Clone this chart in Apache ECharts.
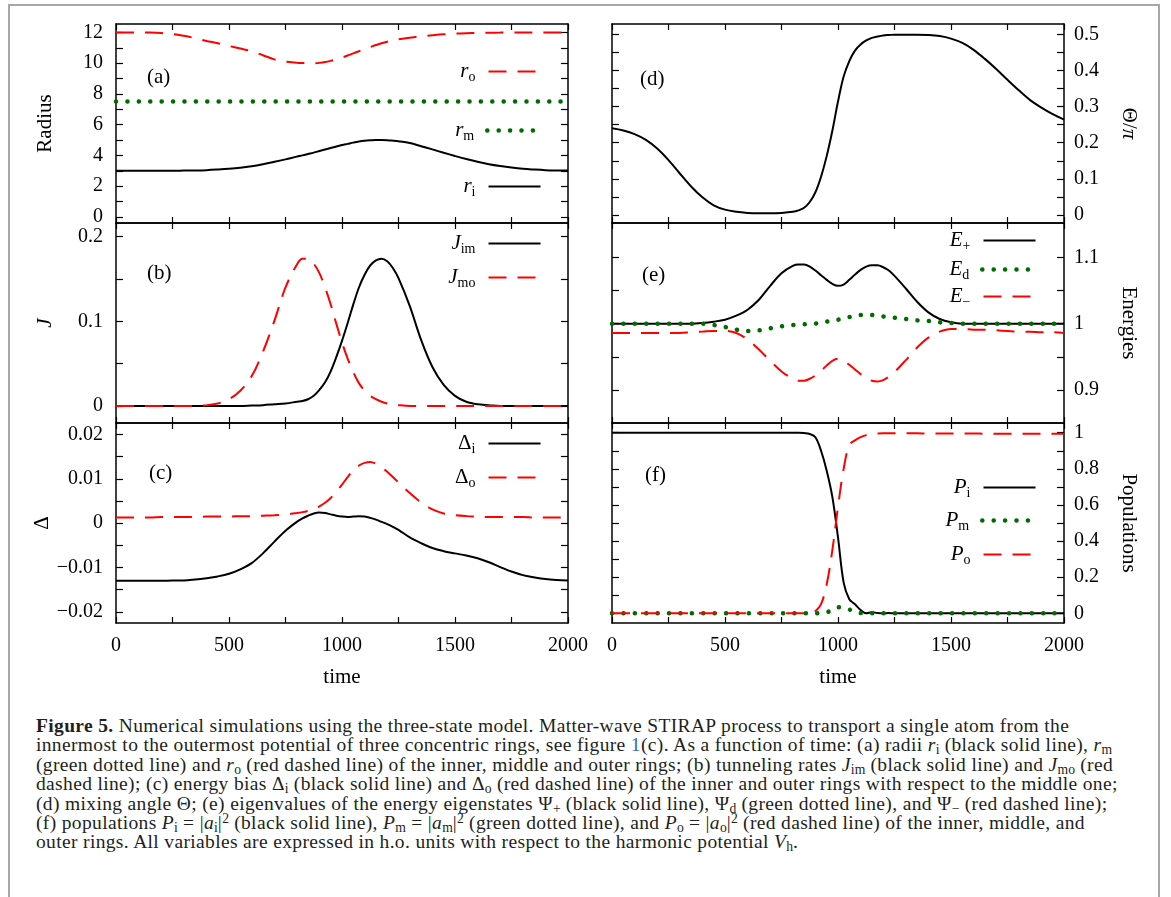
<!DOCTYPE html>
<html>
<head>
<meta charset="utf-8">
<script src="https://cdn.jsdelivr.net/npm/echarts@6/dist/echarts.min.js"></script>
<style>
  html, body { margin: 0; padding: 0; background: #fff; }
  #wrap { position: relative; width: 1171px; height: 897px; overflow: hidden; }
  #frame { position: absolute; left: 8px; top: 4px; width: 1148px; height: 920px; border: 2px solid #a8a8a8; border-bottom: none; }
  #chart { position: absolute; left: 0; top: 0; width: 1171px; height: 705px; }
  #caption { position: absolute; left: 36px; top: 716px; font-family: 'Liberation Serif', serif; font-size: 19.5px; letter-spacing: 0.35px; line-height: 19.4px; color: #231f20; white-space: nowrap; }
  #caption sub { font-size: 0.7em; vertical-align: -0.25em; line-height: 0; letter-spacing: 0; }
  #caption sup { font-size: 0.7em; vertical-align: 0.45em; line-height: 0; letter-spacing: 0; }
  #caption .lnk { color: #2e6db4; }
</style>
</head>
<body>
<div id="wrap">
  <div id="frame"></div>
  <div id="chart"></div>
  <div id="caption">
    <b>Figure 5.</b> Numerical simulations using the three-state model. Matter-wave STIRAP process to transport a single atom from the<br>
    innermost to the outermost potential of three concentric rings, see figure <span class="lnk">1</span>(c). As a function of time: (a) radii <i>r</i><sub>i</sub> (black solid line), <i>r</i><sub>m</sub><br>
    (green dotted line) and <i>r</i><sub>o</sub> (red dashed line) of the inner, middle and outer rings; (b) tunneling rates <i>J</i><sub>im</sub> (black solid line) and <i>J</i><sub>mo</sub> (red<br>
    dashed line); (c) energy bias Δ<sub>i</sub> (black solid line) and Δ<sub>o</sub> (red dashed line) of the inner and outer rings with respect to the middle one;<br>
    (d) mixing angle Θ; (e) eigenvalues of the energy eigenstates Ψ<sub>+</sub> (black solid line), Ψ<sub>d</sub> (green dotted line), and Ψ<sub>−</sub> (red dashed line);<br>
    (f) populations <i>P</i><sub>i</sub> = |<i>a</i><sub>i</sub>|<sup>2</sup> (black solid line), <i>P</i><sub>m</sub> = |<i>a</i><sub>m</sub>|<sup>2</sup> (green dotted line), and <i>P</i><sub>o</sub> = |<i>a</i><sub>o</sub>|<sup>2</sup> (red dashed line) of the inner, middle, and<br>
    outer rings. All variables are expressed in h.o. units with respect to the harmonic potential <i>V</i><sub>h</sub>.
  </div>
</div>
<script>
const time = [0, 50, 100, 150, 200, 250, 300, 350, 400, 450, 500, 550, 600, 650, 700, 750, 800,
  825, 850, 875, 900, 925, 950, 975, 1000, 1025, 1050, 1075, 1100, 1125, 1150, 1175, 1200, 1225, 1250,
  1300, 1350, 1400, 1450, 1500, 1550, 1600, 1650, 1700, 1750, 1800, 1850, 1900, 1950, 2000]

// (a) radii
const rOuter = [12, 12, 12, 11.99, 11.96, 11.9, 11.78, 11.63, 11.45, 11.3, 11.12, 10.95, 10.78, 10.52, 10.25, 10.1, 10.03,
  10.01, 10.0, 10.0, 10.02, 10.07, 10.15, 10.25, 10.37, 10.5, 10.64, 10.78, 10.92, 11.05, 11.18, 11.3, 11.4, 11.48, 11.55,
  11.66, 11.75, 11.82, 11.88, 11.92, 11.95, 11.97, 11.98, 11.99, 12, 12, 12, 12, 12, 12]
const rMiddle = [7.5, 7.5, 7.5, 7.5, 7.5, 7.5, 7.5, 7.5, 7.5, 7.5, 7.5, 7.5, 7.5, 7.5, 7.5, 7.5, 7.5,
  7.5, 7.5, 7.5, 7.5, 7.5, 7.5, 7.5, 7.5, 7.5, 7.5, 7.5, 7.5, 7.5, 7.5, 7.5, 7.5, 7.5, 7.5,
  7.5, 7.5, 7.5, 7.5, 7.5, 7.5, 7.5, 7.5, 7.5, 7.5, 7.5, 7.5, 7.5, 7.5, 7.5]
const rInner = [3, 3, 3, 3, 3, 3, 3.01, 3.02, 3.04, 3.08, 3.13, 3.2, 3.3, 3.43, 3.58, 3.74, 3.92,
  4.0, 4.09, 4.18, 4.28, 4.38, 4.48, 4.58, 4.67, 4.75, 4.83, 4.9, 4.95, 4.98, 5.0, 5.0, 4.99, 4.96, 4.92,
  4.8, 4.6, 4.39, 4.17, 3.96, 3.76, 3.58, 3.43, 3.31, 3.21, 3.13, 3.08, 3.04, 3.02, 3.01]

// (b) tunneling rates
const jIm = [0, 0, 0, 0, 0, 0, 0, 0, 0, 0, 0, 0, 0.0005, 0.001, 0.002, 0.003, 0.005,
  0.006, 0.008, 0.012, 0.019, 0.028, 0.041, 0.058, 0.077, 0.098, 0.12, 0.14, 0.155, 0.166, 0.172, 0.174, 0.171, 0.163, 0.151,
  0.118, 0.078, 0.046, 0.025, 0.012, 0.005, 0.002, 0.001, 0, 0, 0, 0, 0, 0, 0]
const jMo = [0, 0, 0, 0, 0, 0, 0, 0, 0.001, 0.003, 0.008, 0.018, 0.035, 0.064, 0.1, 0.14, 0.167,
  0.174, 0.174, 0.168, 0.157, 0.14, 0.12, 0.097, 0.075, 0.056, 0.04, 0.027, 0.018, 0.012, 0.008, 0.005, 0.003, 0.002, 0.001,
  0, 0, 0, 0, 0, 0, 0, 0, 0, 0, 0, 0, 0, 0, 0]

// (c) energy bias
const deltaIn = [-0.013, -0.013, -0.013, -0.013, -0.013, -0.0129, -0.0129, -0.0127, -0.0124, -0.012, -0.0114, -0.0104, -0.009, -0.0068, -0.0042, -0.0017, 0.0003,
  0.0011, 0.0017, 0.0022, 0.0024, 0.0023, 0.002, 0.0017, 0.0015, 0.0014, 0.0015, 0.0016, 0.0015, 0.0012, 0.0008, 0.0003, -0.0002, -0.0008, -0.0015,
  -0.0032, -0.0045, -0.0056, -0.0063, -0.0068, -0.0073, -0.0079, -0.0088, -0.0099, -0.0109, -0.0117, -0.0122, -0.0126, -0.0128, -0.0129]
const deltaOut = [0.0013, 0.0013, 0.0013, 0.0013, 0.0014, 0.0014, 0.0014, 0.0014, 0.0015, 0.0015, 0.0015, 0.0016, 0.0016, 0.0017, 0.0018, 0.002, 0.0023,
  0.0025, 0.0028, 0.0032, 0.0038, 0.0046, 0.0057, 0.0071, 0.0087, 0.0104, 0.0119, 0.013, 0.0136, 0.0138, 0.0134, 0.0126, 0.0116, 0.0104, 0.0092,
  0.0068, 0.0047, 0.0031, 0.0022, 0.0018, 0.0016, 0.0015, 0.0014, 0.0014, 0.0014, 0.0014, 0.0013, 0.0013, 0.0013, 0.0013]

// (d) mixing angle / pi
const theta = [0.24, 0.234, 0.224, 0.208, 0.184, 0.152, 0.115, 0.079, 0.049, 0.027, 0.015, 0.009, 0.006, 0.005, 0.005, 0.006, 0.009,
  0.013, 0.02, 0.036, 0.063, 0.106, 0.163, 0.233, 0.314, 0.383, 0.426, 0.455, 0.472, 0.483, 0.49, 0.494, 0.497, 0.498, 0.499,
  0.499, 0.499, 0.498, 0.495, 0.488, 0.476, 0.457, 0.432, 0.404, 0.374, 0.345, 0.318, 0.297, 0.279, 0.264]

// (e) energies
const ePlus = [1, 1, 1, 1, 1, 1, 1, 1, 1.001, 1.003, 1.006, 1.012, 1.021, 1.036, 1.057, 1.076, 1.087,
  1.089, 1.089, 1.086, 1.08, 1.073, 1.066, 1.06, 1.057, 1.059, 1.066, 1.074, 1.081, 1.086, 1.088, 1.088, 1.085, 1.08, 1.072,
  1.053, 1.033, 1.017, 1.007, 1.002, 1, 1, 1, 1, 1, 1, 1, 1, 1, 1]
const eDark = [1, 1, 1, 1, 1, 1, 1, 1, 1, 0.998, 0.995, 0.991, 0.989, 0.99, 0.993, 0.996, 0.998,
  0.998, 0.999, 0.999, 1, 1.001, 1.003, 1.005, 1.006, 1.008, 1.01, 1.012, 1.013, 1.013, 1.013, 1.012, 1.011, 1.01, 1.009,
  1.007, 1.005, 1.004, 1.002, 1.001, 1, 1, 1, 1, 1, 1, 1, 1, 1, 1]
const eMinus = [0.986, 0.986, 0.986, 0.986, 0.986, 0.986, 0.986, 0.987, 0.988, 0.989, 0.989, 0.986, 0.976, 0.961, 0.944, 0.928, 0.917,
  0.914, 0.914, 0.917, 0.922, 0.929, 0.937, 0.944, 0.947, 0.944, 0.938, 0.931, 0.924, 0.918, 0.914, 0.913, 0.915, 0.92, 0.927,
  0.945, 0.964, 0.979, 0.988, 0.992, 0.992, 0.991, 0.991, 0.99, 0.989, 0.988, 0.988, 0.987, 0.987, 0.986]

// (f) populations
const pIn = [1, 1, 1, 1, 1, 1, 1, 1, 1, 1, 1, 1, 1, 1, 1, 1, 1,
  1, 0.998, 0.993, 0.975, 0.9, 0.79, 0.645, 0.42, 0.17, 0.078, 0.05, 0.018, 0, 0.006, 0.001, 0, 0.001, 0,
  0, 0, 0, 0, 0, 0, 0, 0, 0, 0, 0, 0, 0, 0, 0]
const pMid = [0, 0, 0, 0, 0, 0, 0, 0, 0, 0, 0, 0, 0, 0, 0, 0, 0,
  0, 0, 0, 0, 0.001, 0.005, 0.02, 0.033, 0.03, 0.021, 0.008, 0.001, 0, 0, 0, 0, 0, 0,
  0, 0, 0, 0, 0, 0, 0, 0, 0, 0, 0, 0, 0, 0, 0]
const pOut = [0, 0, 0, 0, 0, 0, 0, 0, 0, 0, 0, 0, 0, 0, 0, 0, 0,
  0, 0, 0.002, 0.012, 0.05, 0.16, 0.35, 0.59, 0.8, 0.932, 0.958, 0.976, 0.987, 0.993, 0.996, 0.997, 0.997, 0.997,
  0.997, 0.997, 0.996, 0.996, 0.996, 0.996, 0.996, 0.995, 0.995, 0.995, 0.995, 0.995, 0.995, 0.995, 0.995]

// ticks and labels
const xTicks = [0, 250, 500, 750, 1000, 1250, 1500, 1750, 2000]
const xLabels = [0, 500, 1000, 1500, 2000]
const radiusTicks = [0, 1, 2, 3, 4, 5, 6, 7, 8, 9, 10, 11, 12]
const radiusLabels = [0, 2, 4, 6, 8, 10, 12]
const jTicks = [0, 0.05, 0.1, 0.15, 0.2]
const jLabels = [0, 0.1, 0.2]
const deltaTicks = [-0.02, -0.015, -0.01, -0.005, 0, 0.005, 0.01, 0.015, 0.02]
const deltaLabels = [-0.02, -0.01, 0, 0.01, 0.02]
const thetaTicks = [0, 0.05, 0.1, 0.15, 0.2, 0.25, 0.3, 0.35, 0.4, 0.45, 0.5]
const thetaLabels = [0, 0.1, 0.2, 0.3, 0.4, 0.5]
const energyTicks = [0.9, 0.95, 1, 1.05, 1.1]
const energyLabels = [0.9, 1, 1.1]
const popTicks = [0, 0.1, 0.2, 0.3, 0.4, 0.5, 0.6, 0.7, 0.8, 0.9, 1]
const popLabels = [0, 0.2, 0.4, 0.6, 0.8, 1]

const serif = "'Liberation Serif', 'DejaVu Serif', serif"
const RED = '#ff0000'
const GREEN = '#006b00'

const solidLine = { color: '#000', width: 2 }
const dashedLine = { color: RED, width: 2, type: [18, 11] }
const dottedLine = { color: GREEN, width: 4.5, type: [0.1, 11.3], cap: 'round' }

const panels = [
  { tag: '(a)', left: 116, top: 24, height: 199, min: -0.4, max: 12.55, ticks: radiusTicks, labels: radiusLabels,
    name: 'Radius', side: 'left', bottom: false, tagX: 147, tagY: 65 },
  { tag: '(b)', left: 116, top: 223, height: 200, min: -0.0201, max: 0.2162, ticks: jTicks, labels: jLabels,
    name: '{i|J}', side: 'left', bottom: false, tagX: 147, tagY: 261 },
  { tag: '(c)', left: 116, top: 423, height: 200, min: -0.0225, max: 0.0226, ticks: deltaTicks, labels: deltaLabels,
    name: 'Δ', side: 'left', bottom: true, tagX: 149, tagY: 461 },
  { tag: '(d)', left: 612, top: 24, height: 199, min: -0.022, max: 0.5285, ticks: thetaTicks, labels: thetaLabels,
    name: '{n|Θ/}{i|π}', side: 'right', bottom: false, tagX: 640, tagY: 67 },
  { tag: '(e)', left: 612, top: 223, height: 200, min: 0.8503, max: 1.1517, ticks: energyTicks, labels: energyLabels,
    name: 'Energies', side: 'right', bottom: false, tagX: 642, tagY: 263 },
  { tag: '(f)', left: 612, top: 423, height: 200, min: -0.054, max: 1.054, ticks: popTicks, labels: popLabels,
    name: 'Populations', side: 'right', bottom: true, tagX: 645, tagY: 463 },
]

// series: panel index, values, style
const lines = [
  { name: 'r_i', panel: 0, values: rInner, style: solidLine },
  { name: 'r_m', panel: 0, values: rMiddle, style: dottedLine },
  { name: 'r_o', panel: 0, values: rOuter, style: dashedLine },
  { name: 'J_im', panel: 1, values: jIm, style: solidLine },
  { name: 'J_mo', panel: 1, values: jMo, style: dashedLine },
  { name: 'D_i', panel: 2, values: deltaIn, style: solidLine },
  { name: 'D_o', panel: 2, values: deltaOut, style: dashedLine },
  { name: 'theta', panel: 3, values: theta, style: solidLine },
  { name: 'E_+', panel: 4, values: ePlus, style: solidLine },
  { name: 'E_d', panel: 4, values: eDark, style: dottedLine },
  { name: 'E_-', panel: 4, values: eMinus, style: dashedLine },
  { name: 'P_i', panel: 5, values: pIn, style: solidLine },
  { name: 'P_m', panel: 5, values: pMid, style: dottedLine },
  { name: 'P_o', panel: 5, values: pOut, style: dashedLine },
]

// legend entries: label text, where the sample line ends, its vertical centre
const legendEntries = [
  { name: 'r_o', text: '{m|r}{s|o}', end: 541.5, y: 74 },
  { name: 'r_m', text: '{m|r}{s|m}', end: 541.5, y: 133 },
  { name: 'r_i', text: '{m|r}{s|i}', end: 541.5, y: 189 },
  { name: 'J_im', text: '{m|J}{s|im}', end: 541.5, y: 246 },
  { name: 'J_mo', text: '{m|J}{s|mo}', end: 541.5, y: 280 },
  { name: 'D_i', text: '{g|Δ}{s|i}', end: 541.5, y: 446 },
  { name: 'D_o', text: '{g|Δ}{s|o}', end: 541.5, y: 480 },
  { name: 'E_+', text: '{m|E}{s|+}', end: 1036.5, y: 243 },
  { name: 'E_d', text: '{m|E}{s|d}', end: 1036.5, y: 272 },
  { name: 'E_-', text: '{m|E}{s|−}', end: 1036.5, y: 299 },
  { name: 'P_i', text: '{m|P}{s|i}', end: 1036.5, y: 490 },
  { name: 'P_m', text: '{m|P}{s|m}', end: 1036.5, y: 523 },
  { name: 'P_o', text: '{m|P}{s|o}', end: 1036.5, y: 557 },
]

const W = 1171
const PW = 452

const legendRich = {
  m: { fontFamily: serif, fontStyle: 'italic', fontSize: 21, lineHeight: 26, color: '#000' },
  g: { fontFamily: serif, fontSize: 21, lineHeight: 26, color: '#000' },
  s: { fontFamily: serif, fontSize: 14, lineHeight: 14, verticalAlign: 'bottom', color: '#000' },
}

const fmt = v => (v < 0 ? '−' + String(-v) : String(v))

const axisLine = { show: true, onZero: false, lineStyle: { color: '#000', width: 1.5 } }
const tickStyle = { color: '#000', width: 1.2 }
const labelFont = { fontFamily: serif, fontSize: 20, color: '#000' }

const grid = []
const xAxis = []
const yAxis = []
panels.forEach((p, i) => {
  grid.push({ left: p.left, top: p.top, width: PW, height: p.height, containLabel: false })
  // bottom and mirrored top x axes
  xAxis.push({
    type: 'value', gridIndex: i, position: 'bottom', min: 0, max: 2000,
    axisLine,
    axisTick: { inside: true, length: 6, customValues: xTicks, lineStyle: tickStyle },
    axisLabel: { show: p.bottom, customValues: xLabels, formatter: v => String(v), margin: 13, ...labelFont },
    splitLine: { show: false },
    name: p.bottom ? 'time' : '', nameLocation: 'middle', nameGap: 44,
    nameTextStyle: { fontFamily: serif, fontSize: 21, color: '#000' },
  })
  xAxis.push({
    type: 'value', gridIndex: i, position: 'top', min: 0, max: 2000,
    axisLine,
    axisTick: { inside: true, length: 6, customValues: xTicks, lineStyle: tickStyle },
    axisLabel: { show: false },
    splitLine: { show: false },
  })
  const other = p.side === 'left' ? 'right' : 'left'
  yAxis.push({
    type: 'value', gridIndex: i, position: p.side, min: p.min, max: p.max,
    axisLine,
    axisTick: { inside: true, length: 7, customValues: p.ticks, lineStyle: tickStyle },
    axisLabel: { customValues: p.labels, formatter: fmt, margin: p.side === 'left' ? 13 : 10, ...labelFont },
    splitLine: { show: false },
    name: p.name, nameLocation: 'middle',
    nameGap: p.side === 'left' ? 60 : 54,
    nameRotate: p.side === 'left' ? 90 : -90,
    nameTextStyle: {
      fontFamily: serif, fontSize: 21, color: '#000',
      rich: {
        i: { fontFamily: serif, fontStyle: 'italic', fontSize: 21, color: '#000' },
        n: { fontFamily: serif, fontSize: 21, color: '#000' },
      },
    },
  })
  yAxis.push({
    type: 'value', gridIndex: i, position: other, min: p.min, max: p.max,
    axisLine,
    axisTick: { inside: true, length: 7, customValues: p.ticks, lineStyle: tickStyle },
    axisLabel: { show: false },
    splitLine: { show: false },
  })
})

const series = lines.map(l => ({
  name: l.name,
  type: 'line',
  xAxisIndex: 2 * l.panel,
  yAxisIndex: 2 * l.panel,
  data: time.map((t, k) => [t, l.values[k]]),
  symbol: 'none',
  smooth: 0.35,
  lineStyle: l.style,
  itemStyle: { color: l.style.color },
  silent: true,
}))

const styleOf = name => lines.find(l => l.name === name).style

const legend = legendEntries.map(e => {
  const st = styleOf(e.name)
  return {
    data: [e.name],
    orient: 'vertical',
    right: W - e.end,
    top: e.y - 13,
    padding: 0,
    itemWidth: 52,
    itemHeight: 14,
    align: 'right',
    selectedMode: false,
    formatter: () => e.text,
    textStyle: { padding: [0, 8, 0, 0], rich: legendRich },
    lineStyle: { width: st.width, type: st.type || 'solid', cap: st.cap || 'butt', color: st.color },
    itemStyle: { opacity: 0, color: 'rgba(0,0,0,0)', borderWidth: 0 },
  }
})

const title = panels.map(p => ({
  text: p.tag, left: p.tagX, top: p.tagY, padding: 0,
  textStyle: { fontFamily: serif, fontSize: 21, fontWeight: 'normal', color: '#000', lineHeight: 24 },
}))

const chart = echarts.init(document.getElementById('chart'))
chart.setOption({
  animation: false,
  backgroundColor: 'transparent',
  title,
  legend,
  grid,
  xAxis,
  yAxis,
  series,
})
</script>
</body>
</html>
